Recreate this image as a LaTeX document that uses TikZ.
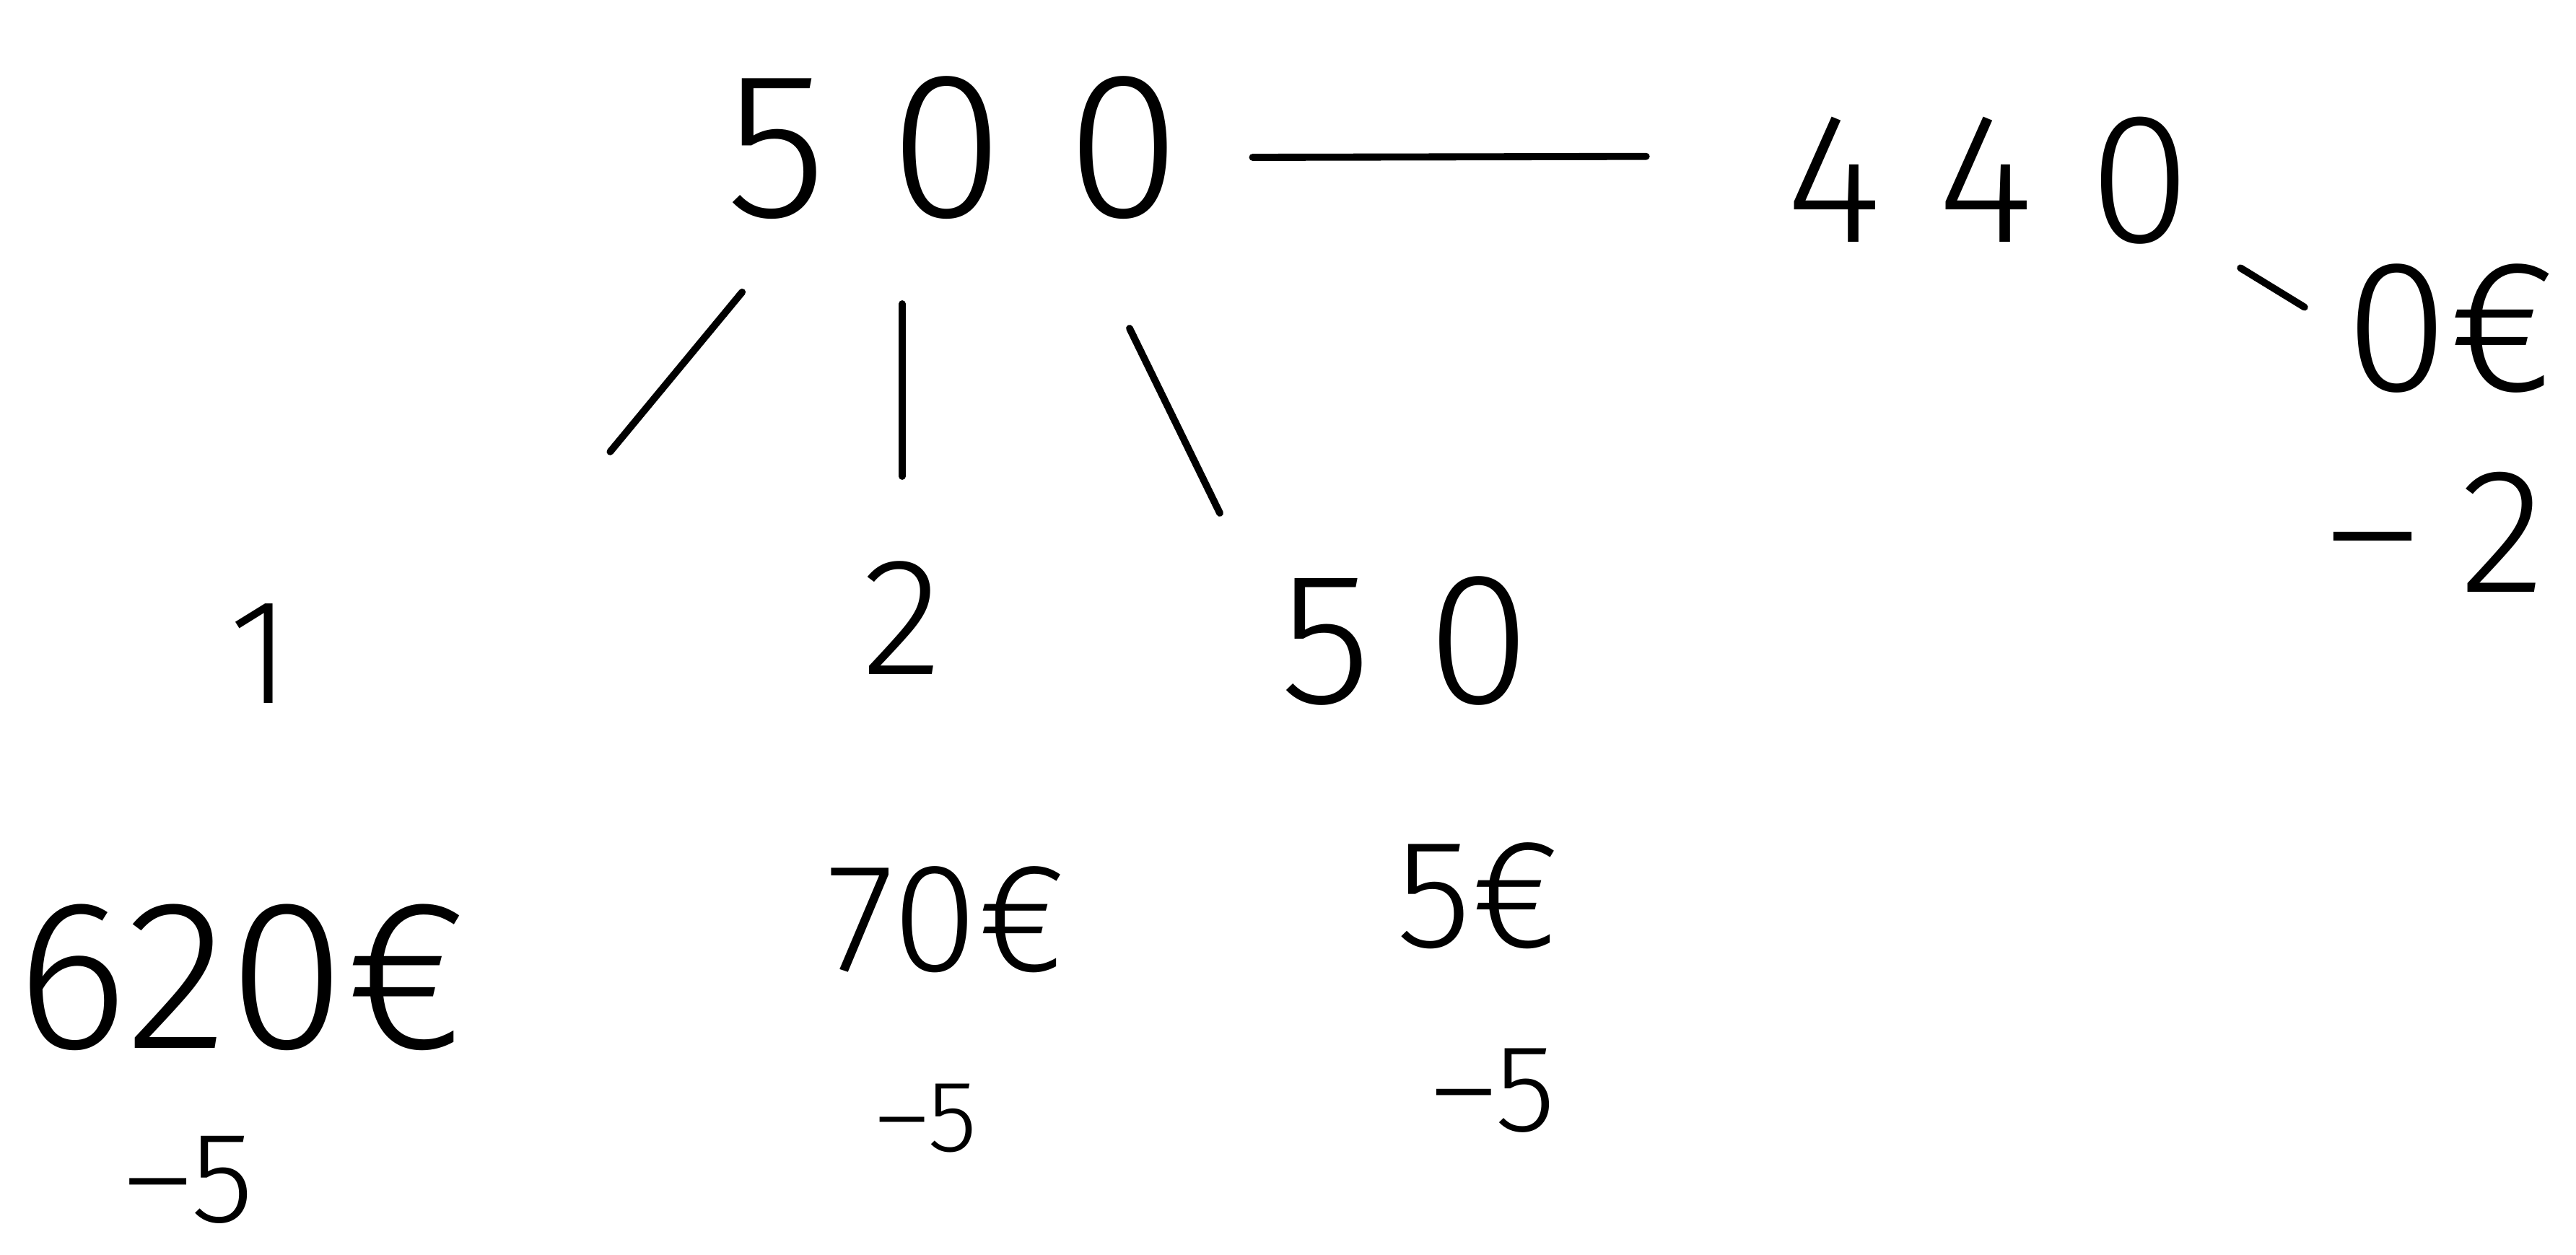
\documentclass[tikz,border=0pt]{standalone}
\usepackage{fontspec}
\setmainfont{Fira Sans}[UprightFont=* Light]
\usetikzlibrary{calc}

\begin{document}
\begin{tikzpicture}[line width=2.8pt, line cap=round,
  num/.style={inner sep=0pt, font=\fontsize{#1}{#1}\selectfont},
  wide/.style={font=\fontsize{#1}{#1}\selectfont\addfontfeatures{LetterSpace=30}}]
  \useasboundingbox (0,0) rectangle (35.69,-17.38);
  % top row
  \node[num=82, wide=82] (n500) at (13.21,-2.05) {500};
  \node[num=73, wide=73] (n440) at (27.55,-2.50) {440};
  \node[num=74] (n0e)  at (33.95,-4.55) {0€};
  \node[num=70, wide=70] (m2)   at (33.75,-7.37) {–2};
  % second row
  \node[num=59] (n1)   at (3.60,-9.06) {1};
  \node[num=66] (n2)   at (12.50,-8.56) {2};
  \node[num=74, wide=74] (n50)  at (19.47,-8.88) {50};
  % prices
  \node[num=84] (p620) at (3.35,-13.54) {620€};
  \node[num=61] (p70)  at (13.11,-12.74) {70€};
  \node[num=61] (p5)   at (20.48,-12.41) {5€};
  % changes
  \node[num=51] (m5a)  at (2.62,-16.35) {–5};
  \node[num=40] (m5b)  at (12.84,-15.50) {–5};
  \node[num=49] (m5c)  at (20.69,-15.11) {–5};
  % branches
  \draw ($(n500)!0.289!(n440)$) -- ($(n500)!0.669!1.1:(n440)$);
  \draw ($(n440)!0.550!-1.4:(n0e)$) -- ($(n440)!0.702!-4.1:(n0e)$);
  \draw ($(n500)!0.298!-1.8:(n1)$) -- ($(n500)!0.534!5.4:(n1)$);
  \draw[shorten <=1.96cm, shorten >=2.16cm] (n2.center) -- (n2.center |- n500.center);
  \draw ($(n500)!0.377!1.8:(n50)$) -- ($(n500)!0.676!-6.4:(n50)$);
\end{tikzpicture}
\end{document}
